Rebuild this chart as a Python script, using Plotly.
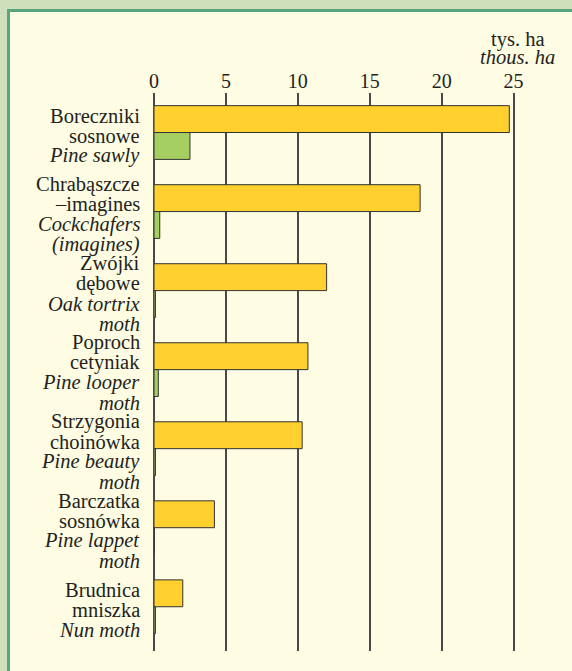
import plotly.graph_objects as go

# ---- data ----
categories = ["Boreczniki sosnowe", "Chrabąszcze –imagines", "Zwójki dębowe",
              "Poproch cetyniak", "Strzygonia choinówka", "Barczatka sosnówka",
              "Brudnica mniszka"]
pl_lines = [["Boreczniki", "sosnowe"], ["Chrabąszcze", "–imagines"], ["Zwójki", "dębowe"],
            ["Poproch", "cetyniak"], ["Strzygonia", "choinówka"], ["Barczatka", "sosnówka"],
            ["Brudnica", "mniszka"]]
en_lines = [["Pine sawly"], ["Cockchafers", "(imagines)"], ["Oak tortrix", "moth"],
            ["Pine looper", "moth"], ["Pine beauty", "moth"], ["Pine lappet", "moth"],
            ["Nun moth"]]
values_yellow = [24.7, 18.5, 12.0, 10.7, 10.3, 4.2, 2.0]
values_green = [2.5, 0.4, 0.1, 0.3, 0.1, 0.0, 0.1]
tick_vals = [0, 5, 10, 15, 20, 25]
unit_pl = "tys. ha"
unit_en = "thous. ha"

FONT = "Liberation Serif, Times New Roman, DejaVu Serif, serif"
TXT = "#231f20"
CREAM = "#fefce3"
OUTER = "#d0dfbb"
BORDER = "#5aa57b"

fig = go.Figure()
fig.add_trace(go.Bar(y=categories, x=values_yellow, orientation="h",
                     marker=dict(color="#ffd02e", line=dict(color="#333333", width=1)),
                     name="A"))
fig.add_trace(go.Bar(y=categories, x=values_green, orientation="h",
                     marker=dict(color="#a6cf62", line=dict(color="#333333", width=1)),
                     name="B"))

annotations = []
LH = 20
for i, cat in enumerate(categories):
    lines = [(t, False) for t in pl_lines[i]] + [(t, True) for t in en_lines[i]]
    n = len(lines)
    for j, (t, it) in enumerate(lines):
        txt = f"<i>{t}</i>" if it else t
        annotations.append(dict(
            x=0, xref="paper", y=cat, yref="y", text=txt, showarrow=False,
            xanchor="right", yanchor="middle", xshift=-12,
            yshift=-(j - (n - 1) / 2) * LH - 3,
            font=dict(family=FONT, size=20.5, color=TXT)))

annotations.append(dict(x=25, xref="x", y=1, yref="paper", text=unit_pl, showarrow=False,
                        xanchor="center", yanchor="middle", xshift=4, yshift=54,
                        font=dict(family=FONT, size=20.5, color=TXT)))
annotations.append(dict(x=25, xref="x", y=1, yref="paper", text=f"<i>{unit_en}</i>",
                        showarrow=False, xanchor="center", yanchor="middle", xshift=4,
                        yshift=36, font=dict(family=FONT, size=20.5, color=TXT)))

W, H = 572, 671
l, r, t, b = 154, 44, 93, 20

fig.update_layout(
    width=W, height=H,
    margin=dict(l=l, r=r, t=t, b=b),
    paper_bgcolor=CREAM, plot_bgcolor=CREAM,
    barmode="group", bargap=0.32, bargroupgap=0,
    showlegend=False,
    font=dict(family=FONT, color=TXT),
    xaxis=dict(range=[0, 26], side="top", tickvals=tick_vals, ticks="",
               showgrid=True, gridcolor="#4a4a4a", gridwidth=1.5,
               zeroline=True, zerolinecolor="#4a4a4a", zerolinewidth=1.5,
               showline=False, tickfont=dict(family=FONT, size=20, color=TXT),
               fixedrange=True),
    yaxis=dict(range=[6.56, -0.5], showticklabels=False, showgrid=False,
               zeroline=False, showline=False, type="category", fixedrange=True),
    annotations=annotations,
)

# frame: outer light strips and green border lines (pixel positions -> paper coords)
pw, ph = W - l - r, H - t - b
def px_x(p):
    return (p - l) / pw
def px_y(p):
    return 1 - (p - t) / ph
frame = [
    dict(type="rect", xref="paper", yref="paper", x0=px_x(0), x1=px_x(W), y0=px_y(0), y1=px_y(9),
         fillcolor=OUTER, line=dict(width=0), layer="below"),
    dict(type="rect", xref="paper", yref="paper", x0=px_x(0), x1=px_x(7), y0=px_y(0), y1=px_y(H),
         fillcolor=OUTER, line=dict(width=0), layer="below"),
    dict(type="rect", xref="paper", yref="paper", x0=px_x(7), x1=px_x(W), y0=px_y(9), y1=px_y(12),
         fillcolor=BORDER, line=dict(width=0), layer="below"),
    dict(type="rect", xref="paper", yref="paper", x0=px_x(7), x1=px_x(10), y0=px_y(9), y1=px_y(H),
         fillcolor=BORDER, line=dict(width=0), layer="below"),
]
fig.update_layout(shapes=frame)

fig.write_html("out.html", config={"displayModeBar": False},
               post_script="document.body.style.margin='0';document.body.style.padding='0';")
